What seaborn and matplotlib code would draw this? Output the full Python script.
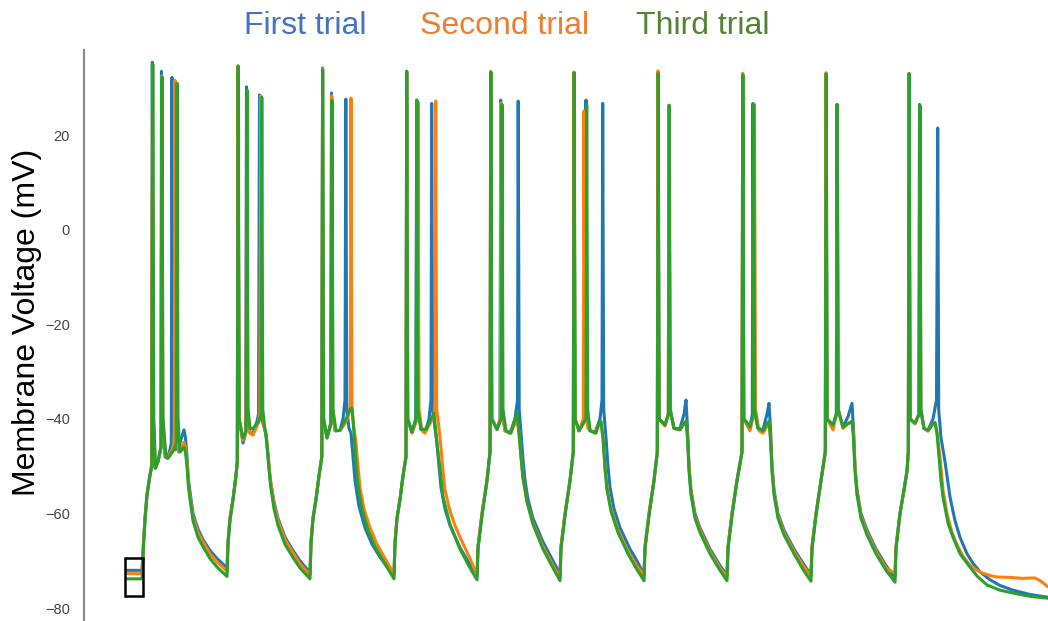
import matplotlib
matplotlib.use("Agg")
import matplotlib.pyplot as plt
import matplotlib.patches as mpatches
import seaborn as sns
import pandas as pd

# ---- data: (time in ms, membrane voltage in mV) vertices ----
first_trial = [
    (127, -72.0), (142, -72.0),
    (143.5, -66), (145, -61), (147, -56), (149.5, -52.5), (151.5, -50),
    (152.3, 35.4), (153.3, -40), (155, -50.4), (158, -49), (160.8, -46),
    (161.5, 33.5), (162.5, -40), (165, -48), (167, -48.3), (170, -46.5), (171.3, -45),
    (172, 32.2), (173, -40), (175.5, -46.5), (180, -45), (184, -42.3), (185.5, -44),
    (187, -48), (188.5, -53), (193, -60), (198, -63.3), (203, -65.5), (210, -67.8), (217, -69.5), (227, -71.5),
    (228, -66), (230, -61), (233, -57), (236, -52), (237.3, -49),
    (238, 34.6), (239, -40), (243, -45.1), (245.7, -43),
    (246.5, 30.2), (247.5, -38), (250, -43), (253, -43), (257, -40.5), (258.5, -39),
    (259.5, 28.5), (260.5, -38), (263, -41), (266, -43),
    (268, -48), (270, -52.5), (274, -57.5), (278, -61), (285, -65), (293, -67.8), (300, -70), (310, -72.5),
    (311, -66), (313, -61), (316, -57), (319, -52), (321.8, -48),
    (322.6, 34.2), (323.6, -40), (327, -44), (330.5, -41),
    (331.5, 28.9), (332.5, -38), (335, -42.5), (340, -42.4), (343, -40), (345, -36),
    (345.8, 27.6), (346.8, -38), (349, -42), (351, -43),
    (353, -48), (355, -53), (359, -58.5), (365, -63), (372, -66.5), (380, -69.2), (388, -71.5), (394, -72.8),
    (395, -66), (397, -61), (400, -57), (403, -52), (406, -48),
    (406.7, 33.5), (407.7, -40), (412, -42.8), (415.8, -40),
    (416.7, 27.4), (417.7, -38), (421, -42.2), (426, -42.2), (429, -40), (431, -36),
    (431.7, 26.7), (432.7, -38), (435, -42), (437, -45),
    (439, -50), (441, -54.5), (445, -59), (450, -62.5), (460, -67.2), (470, -70.8), (477, -73),
    (478, -67), (482, -60), (487, -53), (490, -47),
    (490.7, 33.3), (491.7, -40), (497, -42.2), (500, -40),
    (500.7, 27.4), (501.7, -38), (505, -42.5), (510, -43), (515, -40), (517.5, -36),
    (518.2, 27.2), (519.2, -38), (521, -43),
    (523, -48.5), (525, -53), (528, -57), (533, -61), (543, -66), (553, -70), (560, -72.8),
    (561, -67), (565, -60), (570, -53), (573.3, -47),
    (574, 33.3), (575, -40), (579, -42.5), (585.2, -40),
    (586, 27.4), (587, -38), (590, -42.5), (595, -42.8), (600, -40), (602, -36),
    (602.7, 26.7), (603.7, -38), (606, -44),
    (608, -50), (610, -54.5), (614, -59), (620, -63), (630, -67.5), (637, -70), (644, -73),
    (645, -67), (649, -60), (654, -53), (657.3, -47),
    (658, 33.1), (659, -40), (665, -41.3), (668.3, -39),
    (669, 26.3), (670, -38), (674, -42), (680, -42), (684, -39), (686, -36), (687.5, -42),
    (689, -50), (691, -55), (695, -60), (700, -63), (710, -67.5), (720, -71), (727, -73),
    (728, -67), (732, -60), (737, -53), (742, -47),
    (742.7, 32.9), (743.7, -40), (750, -41.7), (752.3, -39),
    (753, 26.7), (754, -38), (758, -42), (763, -42.3), (767, -39), (769, -36.7), (770.5, -42),
    (772, -50), (774, -55), (778, -60), (784, -63.5), (794, -67.5), (803, -70.5), (811, -73),
    (812, -67), (816, -60), (821, -53), (825.3, -47),
    (826, 33.0), (827, -40), (833, -41.3), (836.3, -39),
    (837, 26.5), (838, -38), (843, -41.7), (848, -39.5), (852, -36.7), (853.5, -42),
    (855, -50), (857, -55), (861, -60), (867, -63.5), (876, -67.5), (886, -71), (895, -73.5),
    (896, -67), (900, -60), (904, -55), (907, -51), (908.3, -47),
    (909, 33.0), (910, -40), (915, -40.9), (918.8, -39),
    (919.5, 26.5), (920.5, -38), (924, -42), (928, -42.4), (933, -40), (936.5, -36),
    (937.7, 21.5), (938.7, -38), (941, -44),
    (945, -49), (947, -52), (950, -56.5), (955, -61.5), (960, -65), (967, -68.5), (973, -70.5),
    (980, -72.3), (990, -74), (1000, -75.2), (1013, -76.2), (1030, -77.1), (1048, -77.7),
]

second_trial = [
    (127, -72.7), (142, -72.7),
    (143.5, -66.5), (145, -61), (147, -56), (149.5, -52.5), (151.5, -50),
    (152.5, 35.0), (153.5, -40), (155.3, -50.4), (158, -49), (161, -46),
    (161.8, 32.5), (162.8, -40), (165.5, -48), (167.5, -48.3), (172, -46.5), (174.3, -45),
    (175, 31.6), (176, -40), (178.5, -47), (181, -46), (184, -44.9), (185.5, -46),
    (187, -49), (188.5, -54), (193, -60.7), (198, -64), (203, -66), (210, -68.5), (217, -70.2), (227, -72.2),
    (228, -66), (230, -61), (233, -57), (236, -52), (237.3, -49),
    (238, 34.6), (239, -40), (243, -44.5), (245.9, -43),
    (246.8, 28.9), (247.8, -38), (250, -43), (253, -43.4), (258, -41), (259.8, -39),
    (260.8, 28.3), (261.8, -38), (264, -41.5), (266.5, -44),
    (268.5, -48.5), (270.5, -53), (274, -58), (278, -61.5), (285, -65.5), (293, -68.3), (300, -70.6), (310, -73),
    (311, -66), (313, -61), (316, -57), (319, -52), (321.8, -48),
    (322.6, 34.0), (323.6, -40), (327, -44), (330.8, -41),
    (331.8, 28.3), (332.8, -38), (335, -42.5), (340, -42.4), (345, -41), (348, -39.5), (350.3, -37),
    (351, 27.8), (352, -38), (354, -42), (356, -45),
    (358, -50), (360, -54.5), (364, -59), (370, -63), (377, -66.5), (385, -69.5), (394, -72.8),
    (395, -66), (397, -61), (400, -57), (403, -52), (406, -48),
    (406.7, 33.3), (407.7, -40), (412, -43), (417.3, -40),
    (418, 27.0), (419, -38), (422, -42.5), (425, -43), (430, -41), (434, -39), (435, -37),
    (435.7, 27.2), (436.7, -38), (439, -42), (441, -46),
    (443, -51), (445, -55), (450, -59.5), (455, -62.5), (460, -65), (470, -69.5), (477, -73),
    (478, -67), (482, -60), (487, -53), (490, -47),
    (490.7, 33.5), (491.7, -40), (497, -42.2), (500.3, -40),
    (501, 26.8), (502, -38), (505, -42.5), (510, -43), (515, -41), (517, -40), (519, -43),
    (521, -48), (523, -52.5), (527, -57.5), (533, -62), (543, -67), (553, -71), (560, -73.5),
    (561, -67), (565, -60), (570, -53), (573.3, -47),
    (574, 33.3), (575, -40), (579, -42.5), (583.3, -40),
    (584, 25.1), (585, -38), (588, -42), (595, -43), (598, -41.5), (601, -41), (603, -44),
    (605, -50), (607, -54.5), (611, -59), (618, -63.5), (628, -68), (636, -70.8), (644, -73.2),
    (645, -67), (649, -60), (654, -53), (657.3, -47),
    (658, 33.6), (659, -40), (665, -41.5), (668.3, -39),
    (669, 26.3), (670, -38), (674, -42), (680, -42.3), (684, -41), (686, -40.5), (687.5, -43),
    (689, -50), (691, -55.5), (695, -60.5), (700, -63.5), (710, -68), (720, -71.5), (727, -73.3),
    (728, -67), (732, -60), (737, -53), (742, -47),
    (742.7, 33.1), (743.7, -40), (750, -42.5), (753.8, -39),
    (754.5, 26.5), (755.5, -38), (759, -42.5), (763, -43), (767, -41.5), (769, -41), (770.5, -44),
    (772, -50), (774, -55.5), (778, -60.5), (784, -64), (794, -68), (803, -71), (811, -73.3),
    (812, -67), (816, -60), (821, -53), (825.3, -47),
    (826, 33.2), (827, -40), (833, -42.3), (836.5, -39),
    (837.3, 26.3), (838.3, -38), (843, -42), (848, -41), (852, -40.5), (853.5, -43),
    (855, -50), (857, -55.5), (861, -60.5), (867, -64), (876, -68), (886, -71.5), (895, -72.6),
    (896, -67), (900, -60), (904, -55), (907, -51), (908.3, -47),
    (909, 33.0), (910, -40), (915, -41), (919, -39),
    (919.8, 26.0), (920.8, -38), (924, -42), (928, -42.6), (933, -41), (935, -40.7), (937, -43),
    (940, -48), (943, -55), (947, -60), (952, -64), (957, -66.6), (963, -69), (970, -70.9),
    (977, -72), (983, -72.6), (990, -73.1), (997, -73.4), (1010, -73.5), (1023, -73.7),
    (1035, -73.6), (1041, -74.3), (1048, -75.5),
]

third_trial = [
    (127, -73.8), (142, -73.8),
    (143.5, -67), (145, -61.5), (147, -56), (149.5, -52.5), (151.8, -50),
    (152.8, 35.0), (153.8, -40), (155.5, -50.4), (158, -49), (161.2, -46),
    (162, 32.3), (163, -40), (166, -48), (168, -48.3), (174, -46.5), (176.3, -45),
    (177, 31.0), (178, -40), (180, -47), (182, -46.5), (184, -46), (185.5, -47),
    (187, -50), (188.5, -54.5), (193, -61.5), (198, -65), (203, -67), (210, -69.5), (217, -71.3), (227, -73.3),
    (228, -66.5), (230, -61.5), (233, -57), (236, -52), (237.3, -49),
    (238.2, 34.6), (239.2, -40), (243, -44), (246.2, -42.5),
    (247, 29.5), (248, -38), (250, -42), (253, -42), (259, -40.5), (261, -39),
    (261.8, 28.0), (262.8, -38), (264.5, -41.5), (266.5, -44.5),
    (268.5, -49), (270.5, -54), (274, -59), (278, -62.5), (285, -66.5), (293, -69.3), (300, -71.5), (310, -73.8),
    (311, -66.5), (313, -61), (316, -57), (319, -52), (321.8, -48),
    (322.6, 33.8), (323.6, -40), (327, -44), (331, -41),
    (332, 27.4), (333, -38), (336, -42.5), (340, -42.4), (346, -40), (350, -38), (352, -37.7), (354, -43),
    (356, -49.5), (358, -54), (362, -59), (368, -63.5), (375, -67), (384, -70.3), (394, -73.8),
    (395, -66.5), (397, -61), (400, -57), (403, -52), (406, -48),
    (406.7, 33.5), (407.7, -40), (412, -42.8), (416, -40),
    (416.9, 27.4), (417.9, -38), (421, -42.2), (426, -42.2), (431, -40), (434, -38.8), (435.5, -42),
    (437, -45.5), (440, -50.5), (443, -56.5), (450, -62.3), (460, -67.5), (470, -71.5), (477, -74),
    (478, -67.5), (482, -60.5), (487, -53), (490, -47),
    (490.9, 33.3), (491.9, -40), (497, -42.2), (501.3, -40),
    (502, 26.5), (503, -38), (506, -42.5), (511, -43), (515, -40), (517, -38.8), (519, -43),
    (521, -48), (523, -52.5), (527, -57.5), (533, -62.3), (543, -67.5), (553, -71.5), (560, -74.2),
    (561, -67.5), (565, -60.5), (570, -53), (573.3, -47),
    (574.2, 33.2), (575.2, -40), (579, -42.5), (586, -40),
    (586.7, 26.5), (587.7, -38), (590, -42.5), (596, -43), (599, -41), (601, -40.5), (603, -44),
    (605, -50.5), (607, -55), (611, -59.5), (618, -64), (628, -68.5), (636, -71.5), (644, -74.2),
    (645, -67.5), (649, -60.5), (654, -53), (657.3, -47),
    (658.2, 33.0), (659.2, -40), (665, -41.3), (668.5, -39),
    (669.3, 26.3), (670.3, -38), (674, -42), (680, -42.3), (684, -41), (686, -40.5), (687.5, -44),
    (689, -51), (691, -56), (695, -61), (700, -64), (710, -68.5), (720, -72), (727, -74.2),
    (728, -67.5), (732, -60.5), (737, -53), (742, -47),
    (742.9, 32.7), (743.9, -40), (750, -41.7), (753, -39),
    (753.7, 26.4), (754.7, -38), (758, -42), (763, -42.5), (767, -41), (769, -40.5), (770.5, -44),
    (772, -51), (774, -56), (778, -61), (784, -64.5), (794, -68.5), (803, -71.8), (811, -74.3),
    (812, -67.5), (816, -60.5), (821, -53), (825.3, -47),
    (826.2, 32.9), (827.2, -40), (833, -41.3), (836.5, -39),
    (837.2, 26.4), (838.2, -38), (843, -41.7), (848, -41), (852, -40.5), (853.5, -44),
    (855, -51), (857, -56), (861, -61), (867, -64.5), (876, -68.5), (886, -72), (895, -74.5),
    (896, -67.5), (900, -60), (904, -55), (907, -51), (908.3, -47),
    (909.2, 33.0), (910.2, -40), (915, -40.9), (919.2, -39),
    (920, 26.3), (921, -38), (924, -42), (928, -42.4), (933, -41), (935, -40.8), (937, -43),
    (939, -48), (941, -53), (943, -56.5), (948, -62), (953, -65), (960, -68.5), (967, -70.5),
    (977, -73.2), (987, -75.1), (1000, -76.2), (1013, -76.8), (1030, -77.5), (1048, -77.9),
]

trial_names = ["First trial", "Second trial", "Third trial"]
line_colors = ["#1f77b4", "#ff7f0e", "#2ca02c"]
title_colors = ["#4472C4", "#ED7D31", "#548235"]
y_ticks = [-80, -60, -40, -20, 0, 20]
y_label = "Membrane Voltage (mV)"

# ---- long-form table ----
rows = []
for name, trace in zip(trial_names, [first_trial, second_trial, third_trial]):
    for i, (t, v) in enumerate(trace):
        rows.append({"trial": name, "order": i, "time": t, "voltage": v})
df = pd.DataFrame(rows)

sns.set_style("white")
plt.rcParams["font.family"] = ["Liberation Sans", "DejaVu Sans"]

W, H = 1048, 621
fig = plt.figure(figsize=(W / 100, H / 100), dpi=100)
ax = fig.add_axes([84 / W, 1 / H, (W - 84) / W, 570 / H])

sns.lineplot(data=df, x="time", y="voltage", hue="trial", hue_order=trial_names,
             palette=line_colors, sort=False, estimator=None, units="trial",
             linewidth=2.2, legend=False, ax=ax)

ax.set_xlim(84, 1048)
ax.set_ylim(-82.5, 38.0)
ax.set_xticks([])
ax.set_yticks(y_ticks)
ax.set_yticklabels([f"\u2212{abs(v)}" if v < 0 else str(v) for v in y_ticks])
ax.tick_params(axis="y", length=0, pad=10, labelsize=10.5, labelcolor="#444444")
ax.set_xlabel("")
ax.set_ylabel("")
for side in ["top", "right", "bottom"]:
    ax.spines[side].set_visible(False)
ax.spines["left"].set_color("#8a8a8a")
ax.spines["left"].set_linewidth(1.6)

# small black box around the starting resting potentials
ax.add_patch(mpatches.Rectangle((124.5, -77.5), 18.5, 8.1, fill=False,
                                edgecolor="black", linewidth=1.8, zorder=5, clip_on=False))

# titles
for name, col, cx in zip(trial_names, title_colors, [305, 505, 703]):
    fig.text(cx / W, 1 - 26 / H, name, color=col, fontsize=23, ha="center", va="center")

fig.text(27 / W, 1 - 322 / H, y_label, rotation=90, fontsize=23, ha="center", va="center",
         color="black")

fig.savefig("out.png", dpi=100)
